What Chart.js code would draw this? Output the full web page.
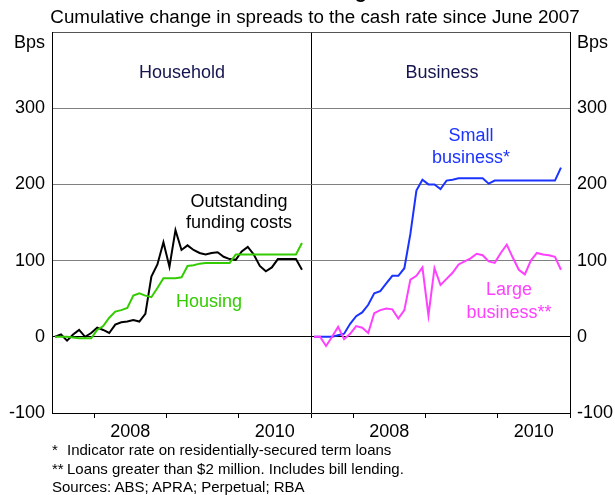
<!DOCTYPE html>
<html>
<head>
<meta charset="utf-8">
<script src="https://cdn.jsdelivr.net/npm/chart.js@4.4.1/dist/chart.umd.min.js"></script>
<style>
  body { margin: 0; background: #fff; }
  #wrap { position: relative; width: 615px; height: 495px; overflow: hidden;
          font-family: "Liberation Sans", Arial, sans-serif; color: #000; }
  canvas { position: absolute; left: 0; top: 0; }
  .txt { position: absolute; white-space: nowrap; }
  #title { left: 0; width: 626px; top: -19px; text-align: center; font-size: 20px; font-weight: bold; line-height: 20px; }
  #subtitle { left: 0; width: 630px; top: 7px; text-align: center; font-size: 18.8px; line-height: 20px; }
  #notes { left: 52px; top: 441px; font-size: 15px; line-height: 18.5px; }
  #notes .mk { display: inline-block; width: 15px; }
</style>
</head>
<body>
<div id="wrap">
  <canvas id="chart" width="615" height="495"></canvas>
  <div class="txt" id="title">Indicator Lending Rates</div>
  <div class="txt" id="subtitle">Cumulative change in spreads to the cash rate since June 2007</div>
  <div class="txt" id="notes">
    <div><span class="mk">*</span>Indicator rate on residentially-secured term loans</div>
    <div><span class="mk">**</span>Loans greater than $2 million. Includes bill lending.</div>
    <div>Sources: ABS; APRA; Perpetual; RBA</div>
  </div>
</div>
<script>
// monthly, Jun 2007 .. Nov 2010, bps
const MONTHS = [
  "Jun-07","Jul-07","Aug-07","Sep-07","Oct-07","Nov-07","Dec-07",
  "Jan-08","Feb-08","Mar-08","Apr-08","May-08","Jun-08","Jul-08","Aug-08","Sep-08","Oct-08","Nov-08","Dec-08",
  "Jan-09","Feb-09","Mar-09","Apr-09","May-09","Jun-09","Jul-09","Aug-09","Sep-09","Oct-09","Nov-09","Dec-09",
  "Jan-10","Feb-10","Mar-10","Apr-10","May-10","Jun-10","Jul-10","Aug-10","Sep-10","Oct-10","Nov-10",
];

const FUNDING  = [0,3,-5,3,9,0,5,12,9,5, 16,19,20,22,20,30,79,95,124,92,
                  140,114,120,114,110,108,110,111,105,102, 101,112,118,108,93,86,91,102,102,102, 102,88];
const HOUSING  = [0,0,0,-1,-2,-2,-2,9,14,25, 33,35,38,54,57,54,52,64,77,77,
                  77,78,93,94,96,97,97,97,97,97, 108,108,108,108,108,108,108,108,108,108, 108,123];
const SMALL_BUS = [0,0,0,0,2,4,17,27,32,42, 57,60,70,80,80,90,135,192,206,200,
                  200,194,205,206,208,208,208,208,208,201, 205,205,205,205,205,205,205,205,205,205, 205,222];
const LARGE_BUS = [0,0,-12,0,13,-3,4,14,12,5, 31,35,37,36,24,35,75,80,91,28,
                  90,68,76,84,95,99,103,109,107,99, 97,110,121,104,88,82,100,110,108,107, 105,88];

const Y_TICKS    = [-100, 0, 100, 200, 300];
const Y_UNIT     = "Bps";
const X_YEARS    = [2008, 2009, 2010, 2011];   // tick marks at start of year
const X_LABELS   = [2008, 2010];               // labels centred on year

const PANEL = 43;          // months per panel (Jun 2007 .. Dec 2010)
const UNIT_POS = 385;
const Y_MAX = 400;

const monthPos = (year, month) => (year - 2007) * 12 + (month - 6) - 0.5;

const tickMarks = [];
const tickText = {};
[0, PANEL].forEach(off => {
  X_YEARS.forEach(y => tickMarks.push(monthPos(y, 1) + off));
  X_LABELS.forEach(y => { tickText[monthPos(y, 7) + off] = String(y); });
});
const DIVIDER = monthPos(2011, 1);

const toPts = (vals, off) => vals.map((v, i) => ({ x: i + off, y: v }));

const FONT = { family: "'Liberation Sans', Arial, sans-serif", size: 18 };

const notes = [
  { text: "Household",     x: 182, y: 73,  color: "#141450" },
  { text: "Business",      x: 442, y: 73,  color: "#141450" },
  { text: "Outstanding",   x: 239, y: 202, color: "#000" },
  { text: "funding costs", x: 239, y: 223, color: "#000" },
  { text: "Housing",       x: 209, y: 302, color: "#33cc00" },
  { text: "Small",         x: 471, y: 136, color: "#1a33ff" },
  { text: "business*",     x: 471, y: 158, color: "#1a33ff" },
  { text: "Large",         x: 509, y: 290, color: "#ff40ff" },
  { text: "business**",    x: 509, y: 313, color: "#ff40ff" },
];

const notesPlugin = {
  id: "notes",
  afterDatasetsDraw(chart) {
    const c = chart.ctx;
    c.save();
    c.font = `${FONT.size}px ${FONT.family}`;
    c.textAlign = "center";
    c.textBaseline = "middle";
    notes.forEach(n => { c.fillStyle = n.color; c.fillText(n.text, n.x, n.y); });
    c.restore();
  },
};

function line(label, data, color) {
  return { label, data, borderColor: color, backgroundColor: color,
           borderWidth: 2, pointRadius: 0, tension: 0, fill: false };
}

const yTickList = s => { s.ticks = [...Y_TICKS, UNIT_POS, Y_MAX].map(v => ({ value: v })); };
const yLabel = v => v === UNIT_POS ? Y_UNIT : (v === Y_MAX ? "" : v);

new Chart(document.getElementById("chart"), {
  type: "line",
  data: {
    datasets: [
      line("Housing", toPts(HOUSING, 0), "#33cc00"),
      line("Outstanding funding costs", toPts(FUNDING, 0), "#000000"),
      line("Large business", toPts(LARGE_BUS, PANEL), "#ff40ff"),
      line("Small business", toPts(SMALL_BUS, PANEL), "#1a33ff"),
    ],
  },
  options: {
    responsive: false,
    devicePixelRatio: 1,
    animation: false,
    layout: { padding: { top: 32, bottom: 52, left: 0, right: 0 } },
    plugins: { legend: { display: false }, tooltip: { enabled: false } },
    scales: {
      x: {
        type: "linear", min: -0.5, max: 2 * PANEL - 0.5,
        afterBuildTicks: s => { s.ticks = [...tickMarks, ...Object.keys(tickText).map(Number)]
                                  .sort((a, b) => a - b).map(v => ({ value: v })); },
        afterFit: s => { s.height = 30; },
        ticks: { autoSkip: false, maxRotation: 0, color: "#000", font: FONT, padding: 3,
                 callback: v => tickText[v] || "" },
        grid: {
          color: ctx => ctx.tick && ctx.tick.value === DIVIDER ? "#000" : "rgba(0,0,0,0)",
          tickColor: ctx => ctx.tick && tickMarks.includes(ctx.tick.value) ? "#000" : "rgba(0,0,0,0)",
          tickLength: 5, lineWidth: 1,
        },
        border: { color: "#000", width: 1 },
      },
      y: {
        position: "left", min: -100, max: Y_MAX,
        afterBuildTicks: yTickList,
        afterFit: s => { s.width = 52; },
        ticks: { color: "#000", font: FONT, padding: 7, callback: yLabel },
        grid: {
          drawTicks: false,
          color: ctx => {
            const v = ctx.tick && ctx.tick.value;
            if (v === 0) return "#000";
            if (v === Y_MAX) return "#555";
            if (v > 0 && v < Y_MAX && v !== UNIT_POS) return "#808080";
            return "rgba(0,0,0,0)";
          },
        },
        border: { color: "#000", width: 1 },
      },
      y2: {
        position: "right", min: -100, max: Y_MAX,
        afterBuildTicks: yTickList,
        afterFit: s => { s.width = 45; },
        ticks: { color: "#000", font: FONT, padding: 7, callback: yLabel },
        grid: { drawOnChartArea: false, drawTicks: false },
        border: { color: "#000", width: 1 },
      },
    },
  },
  plugins: [notesPlugin],
});
</script>
</body>
</html>
